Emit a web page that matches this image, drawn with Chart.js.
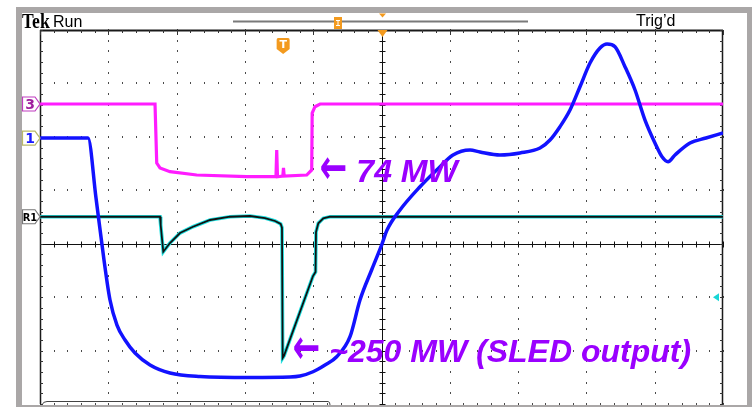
<!DOCTYPE html>
<html>
<head>
<meta charset="utf-8">
<script src="https://cdn.jsdelivr.net/npm/chart.js@4"></script>
<style>
  html, body { margin: 0; padding: 0; background: #fff; overflow: hidden; }
  #wrap { position: relative; width: 752px; height: 407px; }
</style>
</head>
<body>
<div id="wrap"><canvas id="scope" width="752" height="407"></canvas></div>
<script>
// Time in horizontal divisions (0..10), amplitude in vertical divisions (screen centre = 0)

// Channel 1 (blue)
const ch1Time = [0, 0.703, 0.820, 0.937, 1.025, 1.127, 1.245, 1.391, 1.611, 1.903,
  2.343, 3.075, 3.660, 3.807, 3.997, 4.173, 4.344, 4.539, 4.685, 4.861,
  5.007, 5.081, 5.271, 5.564, 5.808, 6.047, 6.296, 6.442, 6.735, 7.028,
  7.321, 7.467, 7.613, 7.760, 7.906, 8.053, 8.199, 8.302, 8.419, 8.565,
  8.712, 8.858, 9.004, 9.107, 9.195, 9.297, 9.517, 9.751, 10];
const ch1Level = [1.978, 1.978, 0.855, -0.305, -1.054, -1.522, -1.803, -2.046, -2.270, -2.420,
  -2.485, -2.504, -2.495, -2.476, -2.396, -2.270, -2.115, -1.741, -1.054, -0.473,
  -0.006, 0.256, 0.631, 1.067, 1.380, 1.661, 1.754, 1.716, 1.661, 1.698,
  1.791, 1.941, 2.190, 2.502, 2.938, 3.382, 3.663, 3.738, 3.687, 3.313,
  2.877, 2.315, 1.885, 1.628, 1.535, 1.661, 1.885, 1.978, 2.072];

// Channel 3 (magenta) – 74 MW step
const ch3Time = [0, 1.684, 1.709, 1.757, 1.903, 2.294, 3.026, 3.455, 3.466, 3.477,
  3.555, 3.565, 3.575, 3.905, 3.978, 3.985, 4.026, 4.100, 10];
const ch3Level = [2.615, 2.615, 1.510, 1.417, 1.348, 1.286, 1.254, 1.254, 1.754, 1.254,
  1.267, 1.417, 1.267, 1.286, 1.380, 2.446, 2.564, 2.615, 2.615];

// Reference trace R1 (black over cyan) – SLED output
const refTime = [0, 1.757, 1.767, 1.805, 1.903, 2.050, 2.240, 2.489, 2.782, 3.075,
  3.294, 3.441, 3.524, 3.543, 3.553, 3.572, 3.997, 4.034, 4.041, 4.075,
  4.148, 4.246, 10];
const refLevel = [0.505, 0.505, 0.35, -0.150, 0.013, 0.200, 0.318, 0.444, 0.505, 0.519,
  0.481, 0.425, 0.369, 0.30, -2.139, -2.10, -0.605, -0.530, 0.219, 0.382,
  0.475, 0.505, 0.505];

// Screen header texts and annotations
const headerLeft = ['Tek', 'Run'];
const headerRight = 'Trig\u2019d';
const channelTags = ['3', '1', 'R1'];
const noteArrow = '\u2190';
const noteLow = '74 MW';
const noteHigh = '~250 MW (SLED output)';

const trigTime = 3.56;   // trigger point on the time axis
const ch1Ground = -1.0;  // cyan ground marker at right edge

const pts = (t, v) => t.map((x, i) => ({ x, y: v[i] }));

const frameGray = '#aaa7a7';

// Bezel and white screen
const bezel = {
  id: 'bezel',
  beforeDraw(chart) {
    const ctx = chart.ctx;
    ctx.save();
    ctx.fillStyle = '#fff';
    ctx.fillRect(0, 0, chart.width, chart.height);
    ctx.fillStyle = frameGray;
    ctx.fillRect(16, 7, 731, 6);      // top band
    ctx.fillRect(16, 7, 6, 400);      // left band
    ctx.fillRect(747, 7, 5, 400);     // right band
    ctx.fillRect(16, 405, 736, 2);    // bottom band
    ctx.restore();
  }
};

// Dotted graticule, centre cross with ticks, frame
const graticule = {
  id: 'graticule',
  beforeDatasetsDraw(chart) {
    const { ctx, chartArea: a, scales: { x, y } } = chart;
    ctx.save();
    ctx.fillStyle = '#4a4a4a';
    const steps = [];
    for (let k = 0; k <= 35; k++) steps.push(-3 + k * 0.2);
    const xsteps = [];
    for (let k = 0; k <= 50; k++) xsteps.push(k * 0.2);
    for (let i = 1; i <= 9; i++) {
      if (i === 5) continue;
      const px = Math.round(x.getPixelForValue(i));
      steps.forEach(v => {
        const py = Math.round(y.getPixelForValue(v));
        ctx.fillRect(px, py - 1, 1, 2);
      });
    }
    for (let j = -3; j <= 3; j++) {
      if (j === 0) continue;
      const py = Math.round(y.getPixelForValue(j));
      xsteps.forEach(v => {
        const px = Math.round(x.getPixelForValue(v));
        ctx.fillRect(px, py - 1, 1, 2);
      });
    }
    // centre cross
    ctx.strokeStyle = '#111';
    ctx.lineWidth = 1;
    const cx = Math.round(x.getPixelForValue(5)) + 0.5;
    const cy = Math.round(y.getPixelForValue(0)) + 0.5;
    ctx.beginPath();
    ctx.moveTo(cx, a.top); ctx.lineTo(cx, a.bottom);
    ctx.moveTo(a.left, cy); ctx.lineTo(a.right, cy);
    steps.forEach(v => {
      const py = Math.round(y.getPixelForValue(v)) + 0.5;
      ctx.moveTo(cx - 3, py); ctx.lineTo(cx + 3, py);
    });
    xsteps.forEach(v => {
      const px = Math.round(x.getPixelForValue(v)) + 0.5;
      ctx.moveTo(px, cy - 3); ctx.lineTo(px, cy + 3);
    });
    ctx.stroke();
    // frame
    ctx.strokeStyle = '#1a1a1a';
    ctx.lineWidth = 2;
    ctx.beginPath();
    ctx.moveTo(a.left, a.top + 0.5); ctx.lineTo(a.right, a.top + 0.5);
    ctx.stroke();
    ctx.lineWidth = 1.5;
    ctx.beginPath();
    ctx.moveTo(a.left + 0.5, a.top); ctx.lineTo(a.left + 0.5, a.bottom);
    ctx.moveTo(a.right - 0.5, a.top); ctx.lineTo(a.right - 0.5, a.bottom);
    ctx.stroke();
    ctx.lineWidth = 1;
    ctx.strokeStyle = '#333';
    ctx.beginPath();
    xsteps.forEach((v, k) => {
      const px = Math.round(x.getPixelForValue(v)) + 0.5;
      const len = (k % 5 === 0) ? 5 : 3;
      ctx.moveTo(px, a.top); ctx.lineTo(px, a.top + len);
    });
    steps.forEach(v => {
      const py = Math.round(y.getPixelForValue(v)) + 0.5;
      ctx.moveTo(a.left, py); ctx.lineTo(a.left + 3, py);
      ctx.moveTo(a.right - 3, py); ctx.lineTo(a.right, py);
    });
    ctx.stroke();
    // readout box edge at the bottom
    ctx.strokeStyle = '#444';
    ctx.beginPath();
    ctx.moveTo(a.left + 2, a.bottom + 1);
    ctx.quadraticCurveTo(a.left + 3, a.bottom - 2.5, a.left + 7, a.bottom - 2.5);
    ctx.lineTo(328, a.bottom - 2.5);
    ctx.quadraticCurveTo(330, a.bottom - 2.5, 330, a.bottom + 1);
    ctx.stroke();
    ctx.restore();
  }
};

function tag(ctx, yPix, text, stroke, color, font) {
  ctx.save();
  ctx.beginPath();
  ctx.moveTo(22.5, yPix - 7); ctx.lineTo(35, yPix - 7); ctx.lineTo(40, yPix);
  ctx.lineTo(35, yPix + 7); ctx.lineTo(22.5, yPix + 7); ctx.closePath();
  ctx.fillStyle = '#fff'; ctx.fill();
  ctx.strokeStyle = stroke; ctx.lineWidth = 1.2; ctx.stroke();
  ctx.fillStyle = color; ctx.font = font;
  ctx.textAlign = 'center'; ctx.textBaseline = 'middle';
  ctx.fillText(text, 30, yPix + 1);
  ctx.restore();
}

// arrow glyph followed by the label text
function note(ctx, left, baseline, text) {
  ctx.save();
  ctx.font = 'bold 33px "DejaVu Sans"';
  const w = ctx.measureText(noteArrow).width;
  ctx.translate(left, baseline - 11);
  ctx.scale(1, 1.45);
  ctx.textBaseline = 'middle';
  ctx.fillText(noteArrow, 0, 0);
  ctx.restore();
  ctx.font = 'italic bold 32px "Liberation Sans"';
  ctx.fillText(text, left + w + 9, baseline);
}

// Header, channel tags, trigger markers, annotations
const overlay = {
  id: 'overlay',
  afterDraw(chart) {
    const { ctx, chartArea: a, scales: { x, y } } = chart;
    ctx.save();
    // header
    ctx.fillStyle = '#000';
    ctx.textBaseline = 'alphabetic';
    ctx.save();
    ctx.translate(22, 28);
    ctx.scale(0.88, 1);
    ctx.font = 'bold 20px "Liberation Serif"';
    ctx.fillText(headerLeft[0], 0, 0);
    ctx.restore();
    ctx.font = '16px "Liberation Sans"';
    ctx.fillText(headerLeft[1], 53, 27);
    ctx.fillText(headerRight, 636, 26);

    // record bar
    ctx.strokeStyle = '#7a7a7a';
    ctx.lineWidth = 2;
    ctx.beginPath(); ctx.moveTo(233, 21.5); ctx.lineTo(528, 21.5); ctx.stroke();
    const orange = '#f39a1e';
    ctx.fillStyle = orange;
    ctx.fillRect(334, 17, 8, 12);
    ctx.strokeStyle = '#fff'; ctx.lineWidth = 1;
    ctx.beginPath();
    ctx.moveTo(336, 20.5); ctx.lineTo(340, 20.5);
    ctx.moveTo(338, 20.5); ctx.lineTo(338, 26);
    ctx.moveTo(336, 25.5); ctx.lineTo(340, 25.5);
    ctx.stroke();

    // trigger-position arrows at screen centre
    const cx = Math.round(x.getPixelForValue(5)) + 0.5;
    ctx.fillStyle = orange;
    ctx.beginPath(); ctx.moveTo(cx - 3.5, 13.5); ctx.lineTo(cx + 3.5, 13.5); ctx.lineTo(cx, 17.5); ctx.closePath(); ctx.fill();
    ctx.beginPath(); ctx.moveTo(cx - 5, a.top); ctx.lineTo(cx + 5, a.top); ctx.lineTo(cx, a.top + 7); ctx.closePath(); ctx.fill();

    // trigger point marker "T"
    const tx = x.getPixelForValue(trigTime);
    ctx.beginPath();
    ctx.moveTo(tx - 5, 38); ctx.lineTo(tx + 5, 38);
    ctx.quadraticCurveTo(tx + 6.5, 38, tx + 6.5, 40);
    ctx.lineTo(tx + 6.5, 49); ctx.lineTo(tx, 54); ctx.lineTo(tx - 6.5, 49);
    ctx.lineTo(tx - 6.5, 40);
    ctx.quadraticCurveTo(tx - 6.5, 38, tx - 5, 38);
    ctx.closePath(); ctx.fill();
    ctx.fillStyle = '#fff';
    ctx.font = 'bold 11px "DejaVu Sans"';
    ctx.textAlign = 'center'; ctx.textBaseline = 'middle';
    ctx.fillText('T', tx, 45);

    // ground marker of the cyan reference, right edge
    const gy = y.getPixelForValue(ch1Ground);
    ctx.fillStyle = '#19d6d6';
    ctx.beginPath(); ctx.moveTo(713, gy); ctx.lineTo(719, gy - 4); ctx.lineTo(719, gy + 4); ctx.closePath(); ctx.fill();

    // channel tags at their levels
    tag(ctx, y.getPixelForValue(ch3Level[0]), channelTags[0], '#c03cc0', '#a0209f', 'bold 14px "DejaVu Sans"');
    tag(ctx, y.getPixelForValue(ch1Level[0]), channelTags[1], '#b8b86a', '#1a1aff', 'bold 14px "DejaVu Sans"');
    tag(ctx, y.getPixelForValue(refLevel[0]), channelTags[2], '#777', '#000', 'bold 11px "DejaVu Sans Condensed"');

    // annotations pointing at the 74 MW step and at the ~250 MW peak
    ctx.fillStyle = '#9a00ff';
    ctx.textAlign = 'left'; ctx.textBaseline = 'alphabetic';
    note(ctx, x.getPixelForValue(ch3Time[14]) + 8, y.getPixelForValue(ch3Level[6]) + 5, noteLow);
    note(ctx, x.getPixelForValue(refTime[14]) + 10, y.getPixelForValue(refLevel[14]) + 4, noteHigh);
    ctx.restore();
  }
};

new Chart(document.getElementById('scope'), {
  type: 'line',
  data: {
    datasets: [
      { label: 'CH1', data: pts(ch1Time, ch1Level), borderColor: '#1212ff', borderWidth: 3.5,
        cubicInterpolationMode: 'monotone', order: 1 },
      { label: 'CH3', data: pts(ch3Time, ch3Level), borderColor: '#ff1cff', borderWidth: 3.2,
        tension: 0, order: 2 },
      { label: 'R1', data: pts(refTime, refLevel), borderColor: '#111', borderWidth: 1.8,
        tension: 0, order: 3 },
      { label: 'R1 ref', data: pts(refTime, refLevel), borderColor: '#1ee0e0', borderWidth: 3.6,
        tension: 0, order: 4 }
    ]
  },
  options: {
    responsive: false,
    animation: false,
    devicePixelRatio: 1,
    layout: { padding: { left: 40, top: 30, right: 29, bottom: 3 } },
    elements: { point: { radius: 0 } },
    plugins: { legend: { display: false }, tooltip: { enabled: false } },
    scales: {
      x: { type: 'linear', min: 0, max: 10, display: false },
      y: { type: 'linear', min: -3, max: 4, display: false }
    }
  },
  plugins: [bezel, graticule, overlay]
});
</script>
</body>
</html>
